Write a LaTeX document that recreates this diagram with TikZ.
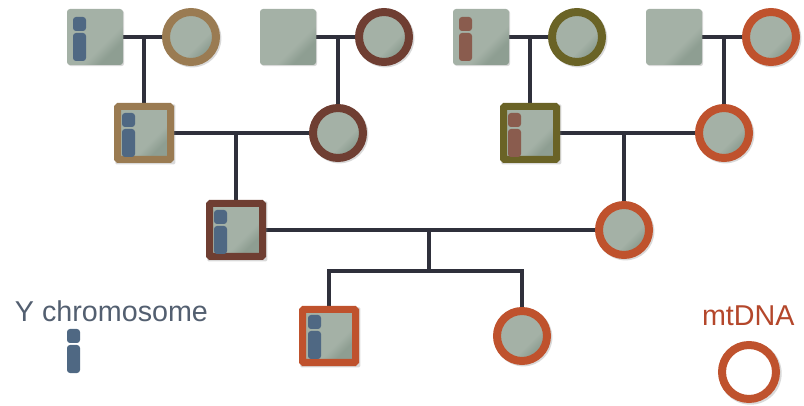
\documentclass[tikz,border=0pt]{standalone}
\usepackage{fontspec}
\setmainfont{Liberation Sans}
\usetikzlibrary{calc,shadows}
\definecolor{cTan}{HTML}{9A7B52}
\definecolor{cBrown}{HTML}{6F3E32}
\definecolor{cOlive}{HTML}{6A6326}
\definecolor{cOrange}{HTML}{BF522D}
\definecolor{gA}{HTML}{A4B1A6}
\definecolor{gB}{HTML}{8E9E92}
\definecolor{lineC}{HTML}{2F303B}
\definecolor{chB}{HTML}{4F6883}
\definecolor{chR}{HTML}{8A5C4E}
\definecolor{txtY}{HTML}{535F70}
\definecolor{txtM}{HTML}{B4472B}
\pgfdeclareverticalshading{pfill}{100bp}{color(0bp)=(gB); color(30bp)=(gB); color(40bp)=(gA); color(100bp)=(gA)}
\pgfdeclarelayer{bg}
\pgfsetlayers{bg,main}
\tikzset{
  base/.style={inner sep=0pt, outer sep=0pt, shade, shading=pfill, shading angle=45},
  plainsq/.style={base, rectangle, rounded corners=3pt, minimum size=56pt,
    drop shadow={shadow xshift=1.2pt, shadow yshift=-1.2pt, opacity=0.3}},
  bordsq/.style={base, rectangle, rounded corners=1pt, minimum size=53pt, draw=#1, line width=7pt,
    drop shadow={shadow xshift=1.2pt, shadow yshift=-1.2pt, opacity=0.3, shadow scale=1.13}},
  ring/.style={base, circle, minimum size=50pt, draw=#1, line width=8pt,
    drop shadow={shadow xshift=1.2pt, shadow yshift=-1.2pt, opacity=0.3, shadow scale=1.16}},
  link/.style={draw=lineC, line width=4pt},
  chromo/.pic={
    \fill[pic actions, rounded corners=3pt] (0,0) rectangle (13,14);
    \fill[pic actions, rounded corners=3pt] (0,16) rectangle (13,44);
  },
  lbl/.style={inner sep=0pt, outer sep=0pt, anchor=base west, font=\fontsize{28.7}{30}\selectfont}
}
\begin{document}
\begin{tikzpicture}[x=1pt, y=-1pt]
\useasboundingbox (0,0) rectangle (804,406);
% generation 1
\node[plainsq] (g1a) at (95,37) {};
\node[ring=cTan] (g1b) at (191,37) {};
\node[plainsq] (g1c) at (288,37) {};
\node[ring=cBrown] (g1d) at (384,37) {};
\node[plainsq] (g1e) at (481,37) {};
\node[ring=cOlive] (g1f) at (577,37) {};
\node[plainsq] (g1g) at (674,37) {};
\node[ring=cOrange] (g1h) at (771,37) {};
% generation 2
\node[bordsq=cTan] (g2a) at (144,133) {};
\node[ring=cBrown] (g2b) at (338,133) {};
\node[bordsq=cOlive] (g2c) at (530,133) {};
\node[ring=cOrange] (g2d) at (724,133) {};
% generation 3
\node[bordsq=cBrown] (g3a) at (236,230) {};
\node[ring=cOrange] (g3b) at (624,230) {};
% generation 4
\node[bordsq=cOrange] (g4a) at (329,336) {};
\node[ring=cOrange] (g4b) at (522,336) {};
\coordinate (sib) at (429,271);
% chromosomes
\pic[fill=chB] at ($(g1a)+(-22,-20)$) {chromo};
\pic[fill=chR] at ($(g1e)+(-22,-20)$) {chromo};
\pic[fill=chB] at ($(g2a)+(-22,-20)$) {chromo};
\pic[fill=chR] at ($(g2c)+(-22,-20)$) {chromo};
\pic[fill=chB] at ($(g3a)+(-22,-20)$) {chromo};
\pic[fill=chB] at ($(g4a)+(-21,-21)$) {chromo};
% legend
\node[lbl, text=txtY] (ylab) at (15,322) {Y chromosome};
\pic[fill=chB] at ($(ylab.base west)+(52,7)$) {chromo};
\node[lbl, text=txtM] (mlab) at (702,326) {mtDNA};
\node[circle, inner sep=0pt, minimum size=54pt, draw=cOrange, line width=8pt, fill=white,
  drop shadow={shadow xshift=1.2pt, shadow yshift=-1.2pt, opacity=0.3, shadow scale=1.16}] (mring) at (749,372) {};
% connectors
\begin{pgfonlayer}{bg}
\draw[link] (g1a) -- (g1b);
\draw[link] (g1c) -- (g1d);
\draw[link] (g1e) -- (g1f);
\draw[link] (g1g) -- (g1h);
\draw[link] (g2a.north) -- (g2a.north |- g1a);
\draw[link] (g2b.north) -- (g2b.north |- g1c);
\draw[link] (g2c.north) -- (g2c.north |- g1e);
\draw[link] (g2d.north) -- (g2d.north |- g1g);
\draw[link] (g2a) -- (g2b);
\draw[link] (g2c) -- (g2d);
\draw[link] (g3a.north) -- (g3a.north |- g2a);
\draw[link] (g3b.north) -- (g3b.north |- g2c);
\draw[link] (g3a) -- (g3b);
\draw[link] (sib) -- (sib |- g3a);
\draw[link] (g4a.north) -- (g4a.north |- sib) -- (g4b.north |- sib) -- (g4b.north);
\end{pgfonlayer}
\end{tikzpicture}
\end{document}
